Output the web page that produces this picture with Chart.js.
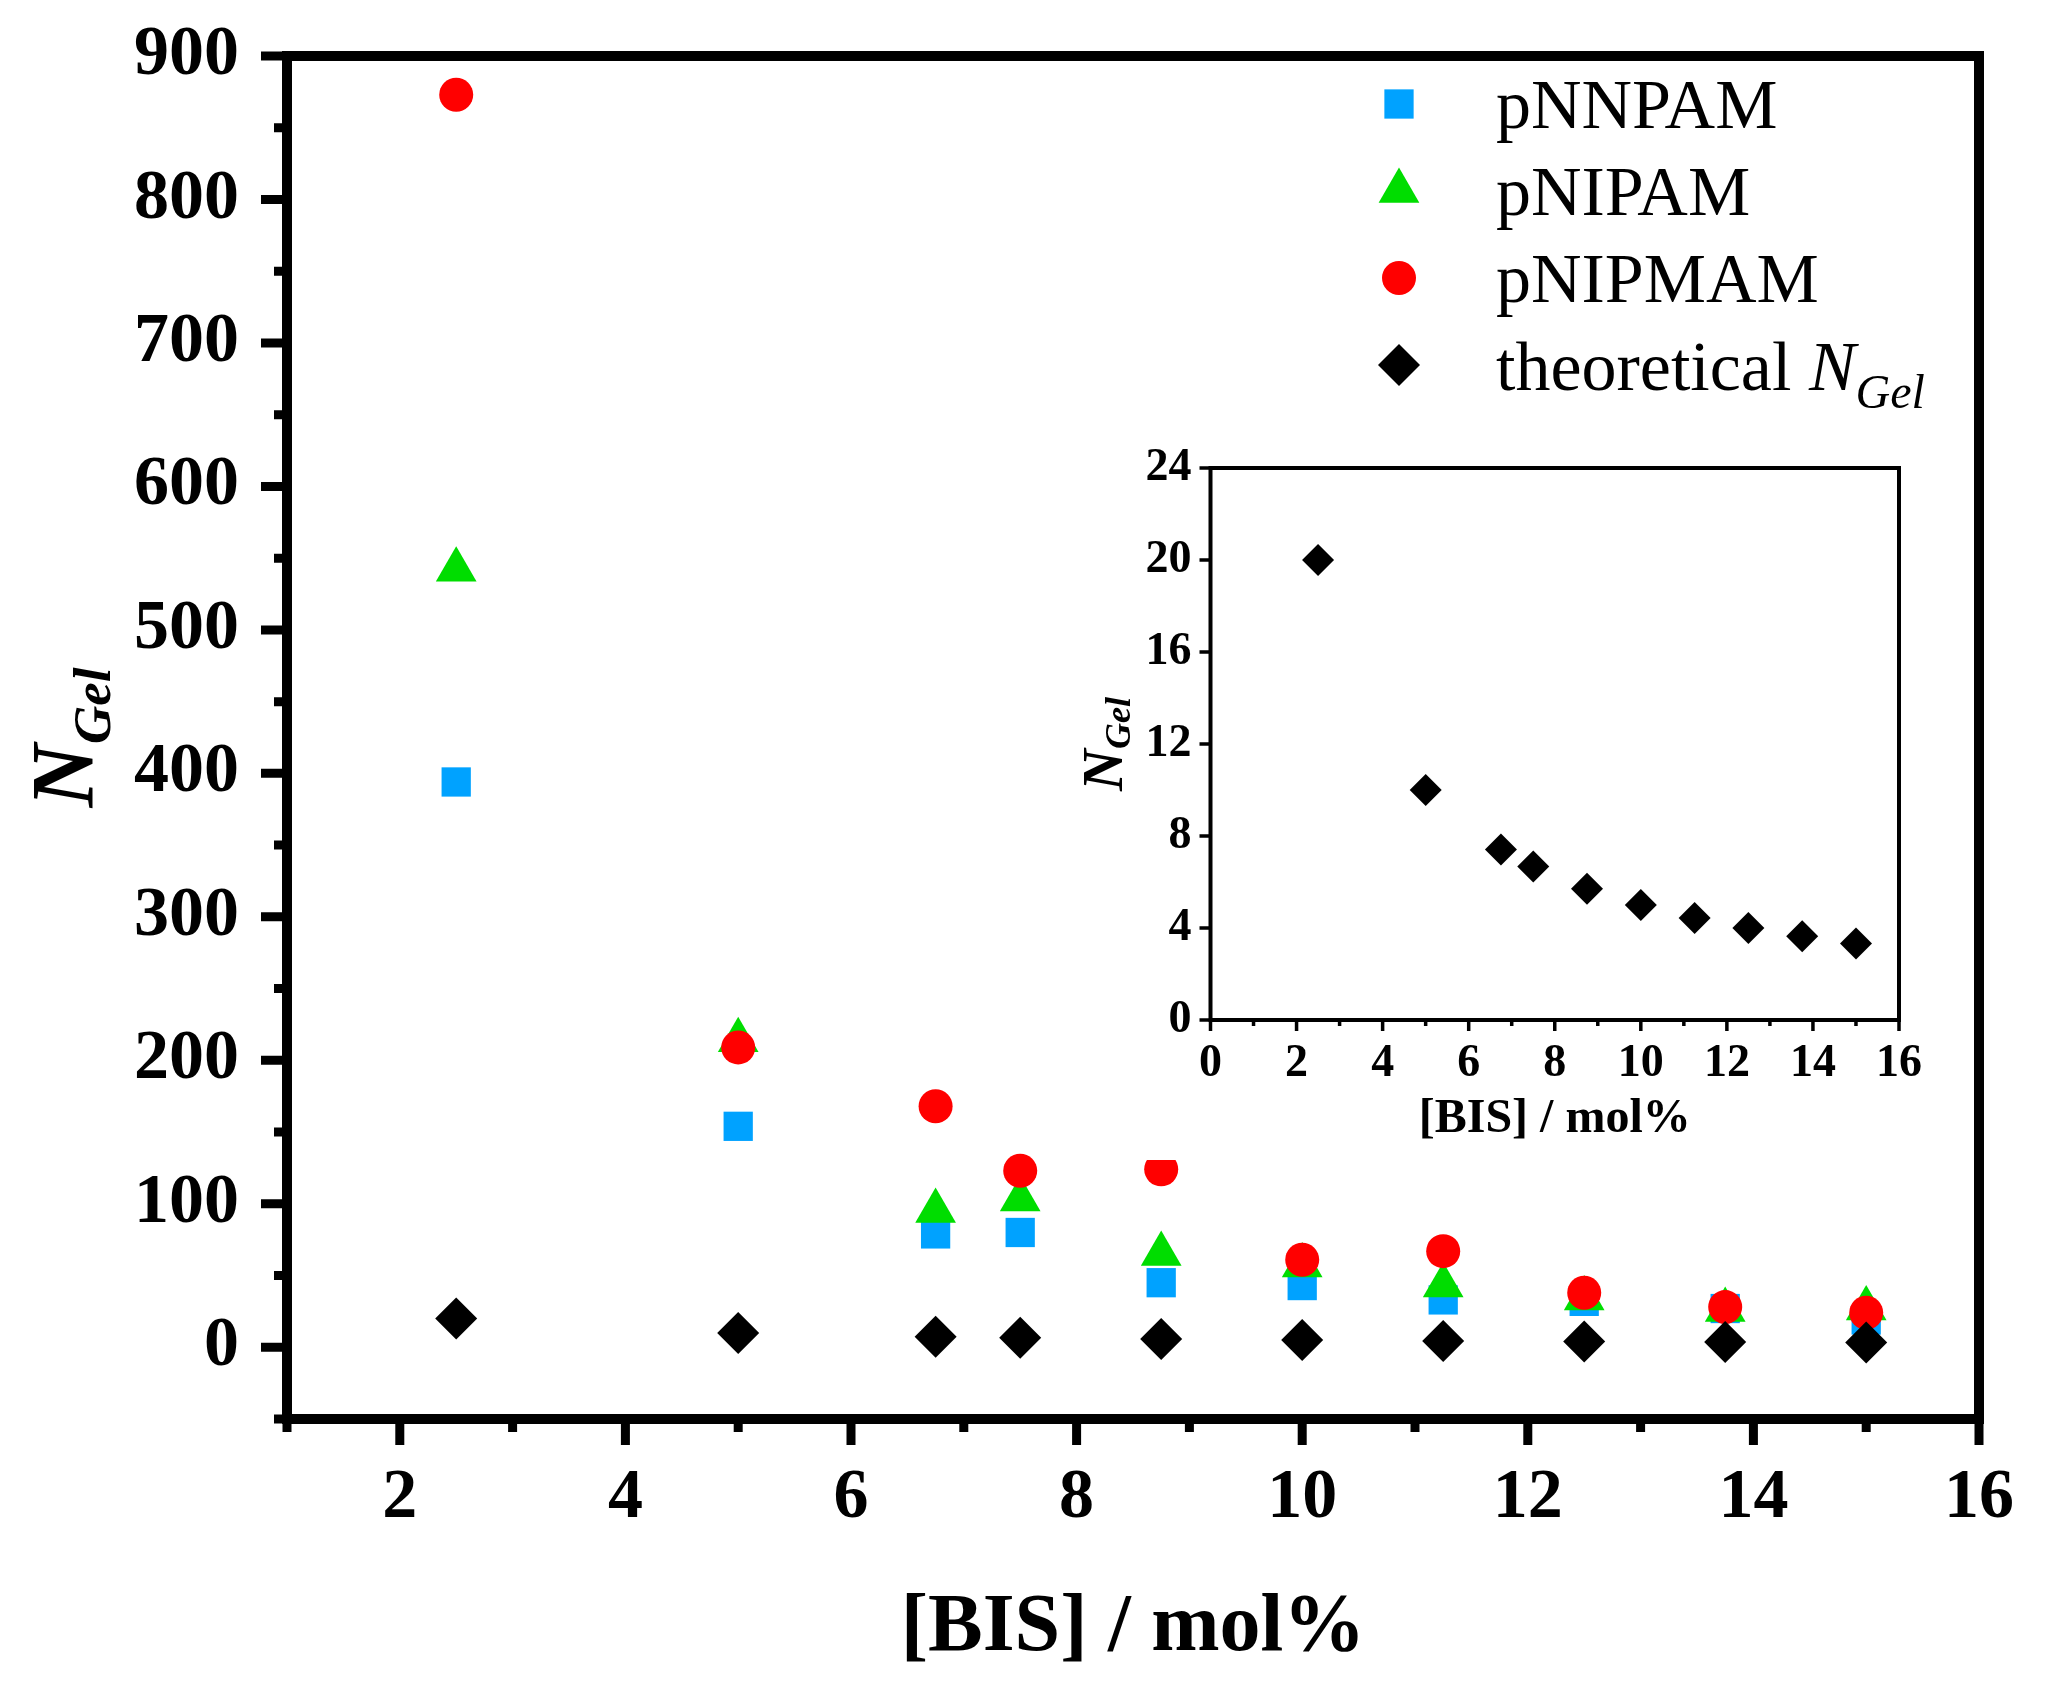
<!DOCTYPE html>
<html>
<head>
<meta charset="utf-8">
<script src="https://cdn.jsdelivr.net/npm/chart.js@4.4.1/dist/chart.umd.min.js"></script>
<style>
  html, body { margin: 0; padding: 0; background: #fff; }
  #wrap { position: relative; width: 2048px; height: 1704px; background: #fff; }
  #mainChart { position: absolute; left: 0; top: 0; }
  #insetChart { position: absolute; left: 1060px; top: 440px; }
</style>
</head>
<body>
<div id="wrap">
  <canvas id="mainChart" width="2048" height="1704"></canvas>
  <canvas id="insetChart" width="900" height="720"></canvas>
</div>
<script>
// data
const bisMol = [2.5, 5, 6.75, 7.5, 8.75, 10, 11.25, 12.5, 13.75, 15];
const pNNPAM = [394, 154, 79, 80, 45, 43, 33, 32, 27, 19];
const pNIPAM = [542, 214, 95, 103, 65, 57, 43, 34, 26, 27];
const pNIPMAM = [873, 209, 168, 123, 124, 61, 67, 38, 28, 24];
const theoreticalNGel = [20, 10, 7.41, 6.67, 5.71, 5, 4.44, 4, 3.64, 3.33];

const seriesNames = ['pNNPAM', 'pNIPAM', 'pNIPMAM'];

const mainXTicks = [2, 4, 6, 8, 10, 12, 14, 16];
const mainXMinor = [1, 3, 5, 7, 9, 11, 13, 15];
const mainYTicks = [0, 100, 200, 300, 400, 500, 600, 700, 800, 900];
const mainYMinor = [-50, 50, 150, 250, 350, 450, 550, 650, 750, 850];
const insetXTicks = [0, 2, 4, 6, 8, 10, 12, 14, 16];
const insetXMinor = [1, 3, 5, 7, 9, 11, 13, 15];
const insetYTicks = [0, 4, 8, 12, 16, 20, 24];

const SERIF = "'Liberation Serif', 'Times New Roman', serif";
const markers = {
    blue: { pointStyle: 'rect', radius: 20.7, backgroundColor: '#00A2FF' },
    green: { pointStyle: 'triangle', radius: 23.5, backgroundColor: '#00DD00' },
    red: { pointStyle: 'circle', radius: 17, backgroundColor: '#FF0000' },
    black: { pointStyle: 'rectRot', radius: 21, backgroundColor: '#000000' }
};

function toPoints(xs, ys) {
    return xs.map((x, i) => ({ x: x, y: ys[i] }));
}

function scatterSet(label, values, m, order) {
    return {
        label: label,
        data: toPoints(bisMol, values),
        pointStyle: m.pointStyle,
        pointRadius: m.radius,
        pointHoverRadius: m.radius,
        backgroundColor: m.backgroundColor,
        borderColor: m.backgroundColor,
        pointBorderWidth: 0,
        borderWidth: 0,
        showLine: false,
        clip: false,
        order: order
    };
}

/**
 * draws "N" with subscript "Gel", optionally rotated for a y title
 */
function drawNGel(ctx, cx, cy, prefix, prefixFont, nFont, subFont, drop, rotated) {
    ctx.save();
    ctx.translate(cx, cy);
    if (rotated) ctx.rotate(-Math.PI / 2);
    ctx.fillStyle = '#000';
    ctx.textBaseline = 'alphabetic';
    ctx.textAlign = 'left';
    ctx.font = prefixFont;
    const wPre = prefix ? ctx.measureText(prefix).width : 0;
    ctx.font = nFont;
    const wN = ctx.measureText('N').width;
    ctx.font = subFont;
    const wSub = ctx.measureText('Gel').width;
    let x = rotated ? -(wPre + wN + wSub) / 2 : 0;
    if (prefix) {
        ctx.font = prefixFont;
        ctx.fillText(prefix, x, 0);
        x += wPre;
    }
    ctx.font = nFont;
    ctx.fillText('N', x, 0);
    x += wN;
    ctx.font = subFont;
    ctx.fillText('Gel', x, drop);
    ctx.restore();
}

function drawMarker(ctx, m, x, y) {
    const opts = { pointStyle: m.pointStyle, radius: m.radius, rotation: 0, borderWidth: 0 };
    ctx.save();
    ctx.fillStyle = m.backgroundColor;
    ctx.strokeStyle = m.backgroundColor;
    if (Chart.helpers && Chart.helpers.drawPoint) {
        Chart.helpers.drawPoint(ctx, opts, x, y);
    } else {
        ctx.beginPath();
        ctx.arc(x, y, m.radius, 0, Math.PI * 2);
        ctx.fill();
    }
    ctx.restore();
}

// frame + outward ticks, the library grid can't do minor ticks of a different length
function drawFrame(chart, cfg) {
    const ctx = chart.ctx;
    const a = chart.chartArea;
    const xs = chart.scales.x;
    const ys = chart.scales.y;
    ctx.save();
    ctx.strokeStyle = '#000';
    ctx.lineCap = 'butt';
    ctx.lineWidth = cfg.tickWidth;
    ctx.beginPath();
    cfg.xMajor.forEach(v => {
        const px = xs.getPixelForValue(v);
        ctx.moveTo(px, a.bottom);
        ctx.lineTo(px, a.bottom + cfg.majorLen);
    });
    cfg.xMinor.forEach(v => {
        const px = xs.getPixelForValue(v);
        ctx.moveTo(px, a.bottom);
        ctx.lineTo(px, a.bottom + cfg.minorLen);
    });
    cfg.yMajor.forEach(v => {
        const py = ys.getPixelForValue(v);
        ctx.moveTo(a.left, py);
        ctx.lineTo(a.left - cfg.majorLen, py);
    });
    cfg.yMinor.forEach(v => {
        const py = ys.getPixelForValue(v);
        ctx.moveTo(a.left, py);
        ctx.lineTo(a.left - cfg.minorLen, py);
    });
    ctx.stroke();
    ctx.lineWidth = cfg.axisWidth;
    ctx.lineJoin = 'miter';
    ctx.strokeRect(a.left, a.top, a.right - a.left, a.bottom - a.top);
    ctx.restore();
}

const whiteBg = {
    id: 'whiteBg',
    beforeDraw(chart) {
        const ctx = chart.ctx;
        ctx.save();
        ctx.fillStyle = '#fff';
        ctx.fillRect(0, 0, chart.width, chart.height);
        ctx.restore();
    }
};

const mainDecor = {
    id: 'mainDecor',
    afterDraw(chart) {
        const ctx = chart.ctx;
        drawFrame(chart, {
            xMajor: mainXTicks, xMinor: mainXMinor, yMajor: mainYTicks, yMinor: mainYMinor,
            majorLen: 26, minorLen: 13, tickWidth: 9, axisWidth: 10
        });
        const a = chart.chartArea;
        // x title
        ctx.save();
        ctx.fillStyle = '#000';
        ctx.font = 'bold 82px ' + SERIF;
        ctx.textAlign = 'center';
        ctx.textBaseline = 'alphabetic';
        ctx.fillText('[BIS] / mol%', (a.left + a.right) / 2, 1650);
        ctx.restore();
        // y title
        drawNGel(ctx, 92, (a.top + a.bottom) / 2, '', '', 'italic bold 88px ' + SERIF,
            'italic bold 53px ' + SERIF, 18, true);
        // legend
        const legendMarkers = [markers.blue, markers.green, markers.red, markers.black];
        const rowY = [104, 191, 278, 365];
        legendMarkers.forEach((m, i) => drawMarker(ctx, m, 1399, rowY[i]));
        ctx.save();
        ctx.fillStyle = '#000';
        ctx.font = '70px ' + SERIF;
        ctx.textAlign = 'left';
        ctx.textBaseline = 'alphabetic';
        seriesNames.forEach((name, i) => ctx.fillText(name, 1496, rowY[i] + 24));
        ctx.restore();
        drawNGel(ctx, 1496, rowY[3] + 25, 'theoretical ', '70px ' + SERIF,
            'italic 70px ' + SERIF, 'italic 48px ' + SERIF, 18, false);
    }
};

const insetDecor = {
    id: 'insetDecor',
    afterDraw(chart) {
        const ctx = chart.ctx;
        drawFrame(chart, {
            xMajor: insetXTicks, xMinor: insetXMinor, yMajor: insetYTicks, yMinor: [],
            majorLen: 11, minorLen: 6, tickWidth: 3.5, axisWidth: 4
        });
        const a = chart.chartArea;
        ctx.save();
        ctx.fillStyle = '#000';
        ctx.font = 'bold 48px ' + SERIF;
        ctx.textAlign = 'center';
        ctx.textBaseline = 'alphabetic';
        ctx.fillText('[BIS] / mol%', (a.left + a.right) / 2, 1132 - 440);
        ctx.restore();
        drawNGel(ctx, 1122 - 1060, (a.top + a.bottom) / 2, '', '', 'italic bold 58px ' + SERIF,
            'italic bold 36px ' + SERIF, 8, true);
    }
};

function axisOptions(min, max, tickValues, fontSize, padding, fitSize, isX) {
    return {
        type: 'linear',
        min: min,
        max: max,
        afterBuildTicks: scale => { scale.ticks = tickValues.map(v => ({ value: v })); },
        afterFit: scale => {
            if (isX) scale.height = fitSize; else scale.width = fitSize;
            // keep label overhang from pushing the plot area around
            scale.paddingTop = 0;
            scale.paddingBottom = 0;
            scale.paddingLeft = 0;
            scale.paddingRight = 0;
        },
        grid: { display: false, drawTicks: false },
        border: { display: false },
        ticks: {
            autoSkip: false,
            maxRotation: 0,
            padding: padding,
            color: '#000',
            font: { family: SERIF, weight: 'bold', size: fontSize }
        }
    };
}

function initializeMainChart() {
    const canvas = document.querySelector('#mainChart');
    new Chart(canvas, {
        type: 'scatter',
        data: {
            datasets: [
                scatterSet('pNNPAM', pNNPAM, markers.blue, 4),
                scatterSet('pNIPAM', pNIPAM, markers.green, 3),
                scatterSet('pNIPMAM', pNIPMAM, markers.red, 2),
                scatterSet('theoretical NGel', theoreticalNGel, markers.black, 1)
            ]
        },
        options: {
            responsive: false,
            animation: false,
            devicePixelRatio: 1,
            layout: { padding: { top: 56, right: 69, left: 0, bottom: 0 } },
            plugins: { legend: { display: false }, tooltip: { enabled: false } },
            scales: {
                x: axisOptions(1, 16, mainXTicks, 70, 38, 285, true),
                y: axisOptions(-50, 900, mainYTicks, 70, 48, 287, false)
            }
        },
        plugins: [whiteBg, mainDecor]
    });
}

function initializeInsetChart() {
    const canvas = document.querySelector('#insetChart');
    const insetMarker = Object.assign({}, markers.black, { radius: 16 });
    new Chart(canvas, {
        type: 'scatter',
        data: {
            datasets: [scatterSet('theoretical NGel', theoreticalNGel, insetMarker, 1)]
        },
        options: {
            responsive: false,
            animation: false,
            devicePixelRatio: 1,
            layout: { padding: { top: 28, right: 61, left: 0, bottom: 0 } },
            plugins: { legend: { display: false }, tooltip: { enabled: false } },
            scales: {
                x: axisOptions(0, 16, insetXTicks, 46, 17, 140, true),
                y: axisOptions(0, 24, insetYTicks, 46, 19, 150.5, false)
            }
        },
        plugins: [whiteBg, insetDecor]
    });
}

initializeMainChart();
initializeInsetChart();
</script>
</body>
</html>
